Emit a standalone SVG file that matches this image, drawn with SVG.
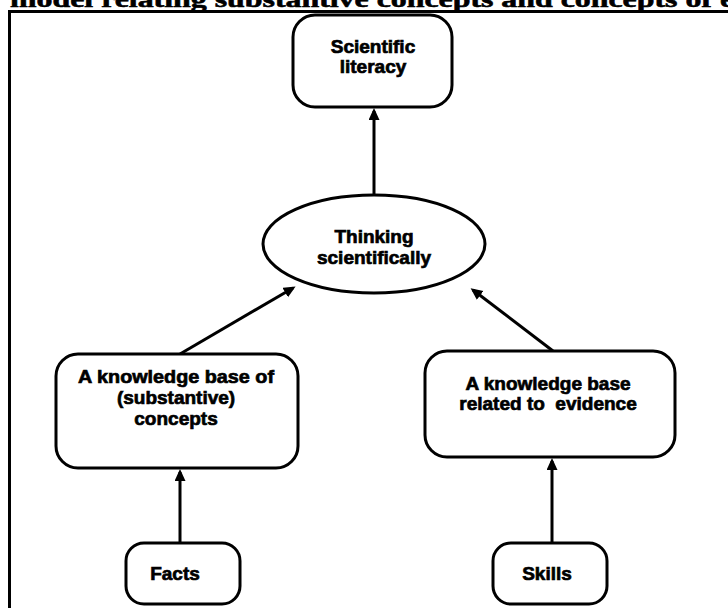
<svg xmlns="http://www.w3.org/2000/svg" width="728" height="608" viewBox="0 0 728 608">
<style>
.box{fill:#fff;stroke:#000;stroke-width:3}
.lbl{font-family:"Liberation Sans",Arial,sans-serif;font-weight:bold;font-size:19px;fill:#000;stroke:#000;stroke-width:0.7;text-anchor:middle}
.edge{stroke:#000;stroke-width:3;fill:none;marker-end:url(#ah)}
.title{font-family:"Liberation Serif","Times New Roman",serif;font-weight:bold;font-size:24px;fill:#000;stroke:#000;stroke-width:0.6}
</style>
<defs>
<marker id="ah" markerUnits="userSpaceOnUse" markerWidth="13" markerHeight="12" refX="9" refY="5.5" orient="auto">
<path d="M0,0 L12,5.5 L0,11 Z" fill="#000"/>
</marker>
</defs>
<rect width="728" height="608" fill="#fff"/>
<text class="title" x="10" y="7" textLength="740" lengthAdjust="spacingAndGlyphs">model relating substantive concepts and concepts of ev</text>
<path d="M9.5,608 V11.5 H728" fill="none" stroke="#000" stroke-width="3"/>
<g id="connectors">
<line class="edge" x1="374" y1="197" x2="374" y2="111"/>
<line class="edge" x1="180" y1="354" x2="293" y2="288"/>
<line class="edge" x1="553" y1="351" x2="473" y2="290"/>
<line class="edge" x1="180" y1="543" x2="180" y2="472"/>
<line class="edge" x1="552" y1="543" x2="552" y2="461"/>
</g>
<g id="scientific-literacy">
<rect class="box" x="293" y="15" width="159" height="92" rx="22"/>
<text class="lbl" x="373" y="53">Scientific</text>
<text class="lbl" x="373" y="73">literacy</text>
</g>
<g id="thinking-scientifically">
<ellipse class="box" cx="374" cy="244" rx="111" ry="49"/>
<text class="lbl" x="374" y="243">Thinking</text>
<text class="lbl" x="374" y="264">scientifically</text>
</g>
<g id="knowledge-concepts">
<rect class="box" x="56" y="354" width="242" height="114" rx="22"/>
<text class="lbl" x="176" y="383" textLength="196" lengthAdjust="spacingAndGlyphs">A knowledge base of</text>
<text class="lbl" x="176" y="404">(substantive)</text>
<text class="lbl" x="176" y="425">concepts</text>
</g>
<g id="knowledge-evidence">
<rect class="box" x="425" y="351" width="250" height="106" rx="22"/>
<text class="lbl" x="548" y="390">A knowledge base</text>
<text class="lbl" x="548" y="410" xml:space="preserve">related to  evidence</text>
</g>
<g id="facts">
<rect class="box" x="126" y="543" width="114" height="61" rx="18"/>
<text class="lbl" x="175" y="580">Facts</text>
</g>
<g id="skills">
<rect class="box" x="493" y="543" width="114" height="61" rx="18"/>
<text class="lbl" x="547" y="580">Skills</text>
</g>
</svg>
